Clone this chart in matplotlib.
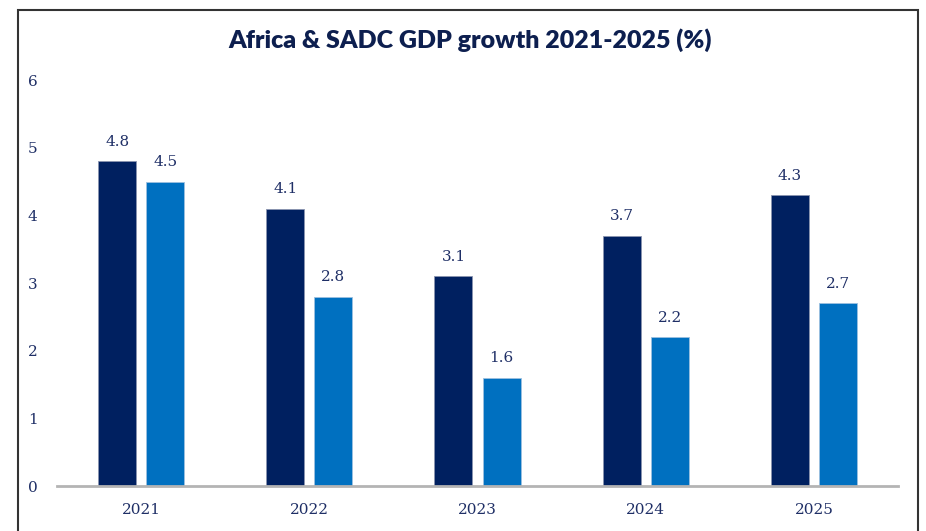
import numpy as np
import matplotlib
matplotlib.use("Agg")
import matplotlib.pyplot as plt
from matplotlib.patches import Rectangle

years = ["2021", "2022", "2023", "2024", "2025"]
africa = [4.8, 4.1, 3.1, 3.7, 4.3]
sadc = [4.5, 2.8, 1.6, 2.2, 2.7]

dark = "#002060"
light = "#0070C0"
txt = "#1f2f66"

fig = plt.figure(figsize=(9.26, 5.31), dpi=100)
ax = fig.add_axes([0.0616, 0.0847, 0.9082, 0.7646])

x = np.arange(len(years))
w = 0.226
off = 0.143
b1 = ax.bar(x - off, africa, w, color=dark, edgecolor="#8a94b0", linewidth=0.6)
b2 = ax.bar(x + off, sadc, w, color=light, edgecolor="#9cc0e0", linewidth=0.6)

for bars, vals in ((b1, africa), (b2, sadc)):
    for r, v in zip(bars, vals):
        ax.annotate(f"{v:.1f}", (r.get_x() + r.get_width() / 2, v),
                    xytext=(0, 9), textcoords="offset points",
                    ha="center", va="bottom", fontsize=11,
                    family="DejaVu Serif", color=txt)

ax.set_xlim(-0.5, 4.5)
ax.set_ylim(0, 6)
ax.set_xticks(x)
ax.set_xticklabels(years)
ax.set_yticks(range(7))
for lab in ax.get_xticklabels() + ax.get_yticklabels():
    lab.set_family("DejaVu Serif")
    lab.set_fontsize(11)
    lab.set_color(txt)
ax.tick_params(axis="both", length=0)
ax.tick_params(axis="x", pad=12)
ax.tick_params(axis="y", pad=14)
for s in ("top", "right", "left"):
    ax.spines[s].set_visible(False)
ax.spines["bottom"].set_color("#b4b4b4")
ax.spines["bottom"].set_linewidth(2)

fig.text(0.508, 0.925, "Africa & SADC GDP growth 2021-2025 (%)",
         ha="center", va="center", fontsize=18, fontweight="heavy",
         family="Lato", color="#0d1f4f")

# outer frame
fig.patches.append(Rectangle((18 / 926, -0.1), 900 / 926, 1.1 - 10 / 531,
                             transform=fig.transFigure, fill=False,
                             edgecolor="#333333", linewidth=1.5))

fig.savefig("out.png", dpi=100)
